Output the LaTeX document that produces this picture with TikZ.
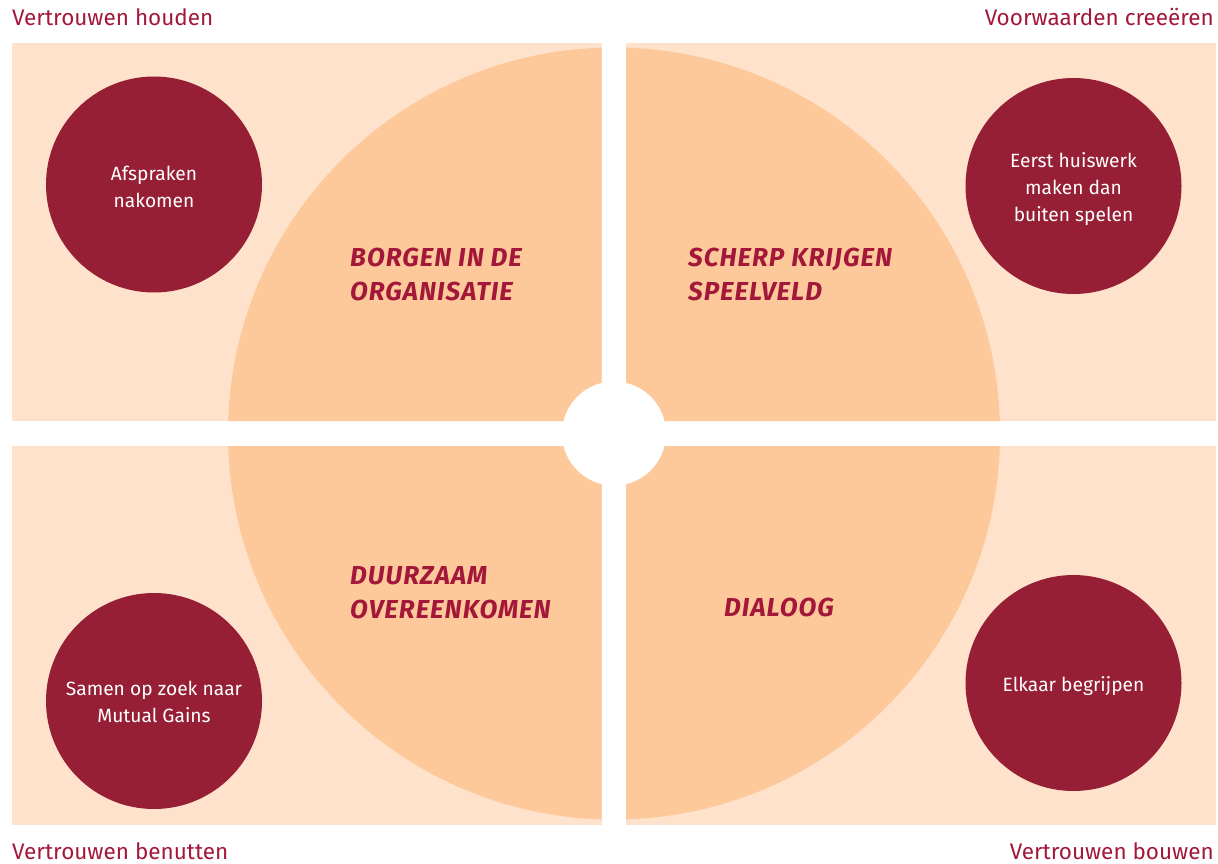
\documentclass[tikz,border=0pt]{standalone}
\usepackage{fontspec}
\setmainfont{Fira Sans}

\definecolor{lightpeach}{HTML}{FEE2CB}
\definecolor{peach}{HTML}{FDC99B}
\definecolor{wine}{HTML}{961F35}
\definecolor{labelred}{HTML}{A3173A}

\tikzset{
    goaltext/.style={align=center, text=white, font=\fontsize{19.2}{27}\selectfont},
    quadtitle/.style={anchor=north west, align=left, text=labelred,
        font=\fontsize{26}{34}\selectfont\bfseries\itshape\addfontfeature{LetterSpace=4}},
    cornerlabel/.style={text=labelred, font=\fontsize{22.5}{28}\selectfont}
}

\begin{document}
\begin{tikzpicture}[x=1pt,y=-1pt]
    \tikzstyle{every node}+=[inner sep=0pt]
    \useasboundingbox (0,0) rectangle (1218,864);
    % four quadrants
    \fill [lightpeach] (12,43) rectangle (601.5,421);
    \fill [lightpeach] (626,43) rectangle (1216,421);
    \fill [lightpeach] (12,446) rectangle (601.5,825);
    \fill [lightpeach] (626,446) rectangle (1216,825);
    % big circle, cut by the quadrants
    \begin{scope}
        \clip (12,43) rectangle (601.5,421) (626,43) rectangle (1216,421)
              (12,446) rectangle (601.5,825) (626,446) rectangle (1216,825);
        \fill [peach] (614,433.5) circle (386);
    \end{scope}
    \fill [white] (614,433.5) circle (52);
    % titles
    \node [quadtitle] (borgen) at (350,248) {BORGEN IN DE\\ORGANISATIE};
    \node [quadtitle] (scherp) at (688,248) {SCHERP KRIJGEN\\SPEELVELD};
    \node [quadtitle] (duurzaam) at (350,566) {DUURZAAM\\OVEREENKOMEN};
    \node [quadtitle] (dialoog) at (724,598) {DIALOOG};
    % circles
    \fill [wine] (154,184.5) circle (108);
    \node [goaltext] (afspraken) at (154,186.5) {Afspraken\\nakomen};
    \fill [wine] (1073.5,186) circle (108);
    \node [goaltext] (huiswerk) at (1073.5,189) {Eerst huiswerk\\maken dan\\buiten spelen};
    \fill [wine] (154,701) circle (108);
    \node [goaltext] (gains) at (154,702) {Samen op zoek naar\\Mutual Gains};
    \fill [wine] (1073.5,683) circle (108);
    \node [goaltext] (begrijpen) at (1073.5,686) {Elkaar begrijpen};
    % corners
    \node [cornerlabel, anchor=base west] (houden) at (12,26) {Vertrouwen houden};
    \node [cornerlabel, anchor=base east] (creeeren) at (1214,26) {Voorwaarden creeëren};
    \node [cornerlabel, anchor=base west] (benutten) at (12,859) {Vertrouwen benutten};
    \node [cornerlabel, anchor=base east] (bouwen) at (1214,859) {Vertrouwen bouwen};
\end{tikzpicture}
\end{document}
